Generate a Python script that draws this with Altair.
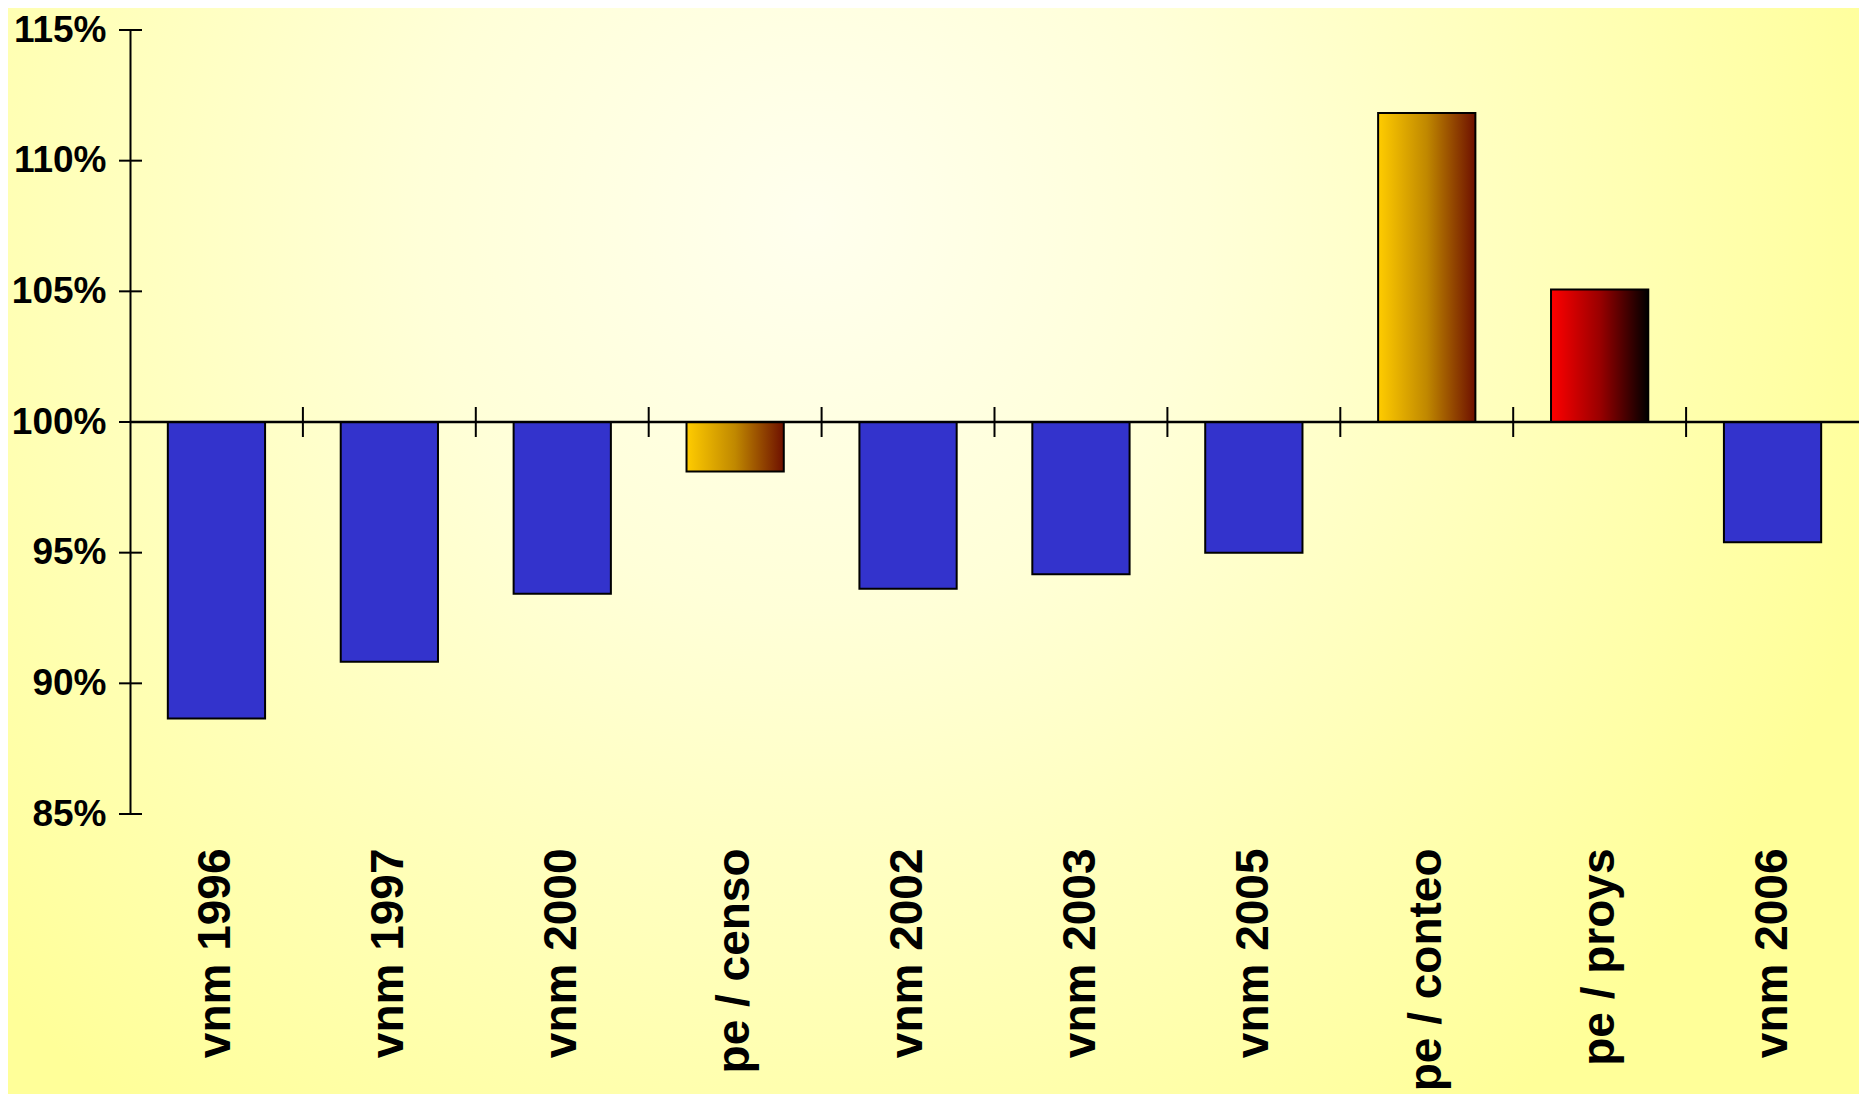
import altair as alt
import pandas as pd

categories = ["vnm 1996", "vnm 1997", "vnm 2000", "pe / censo", "vnm 2002",
              "vnm 2003", "vnm 2005", "pe / conteo", "pe / proys", "vnm 2006"]
values = [88.65, 90.83, 93.43, 98.11, 93.62, 94.17, 95.00, 111.82, 105.07, 95.40]
groups = ["vnm", "vnm", "vnm", "pe_gold", "vnm", "vnm", "vnm", "pe_gold", "pe_red", "vnm"]
y_ticks = [85, 90, 95, 100, 105, 110, 115]
baseline = 100

W, H = 1729, 784
PAD_L, PAD_T, PAD_R, PAD_B = 122, 22, 0, 280

df = pd.DataFrame({"cat": categories, "value": values, "group": groups, "base": [baseline] * len(categories)})
ticks_df = pd.DataFrame({"v": y_ticks})
bound_df = pd.DataFrame({"cat": categories[1:]})

FONT = "Liberation Sans"

x_enc = alt.X("cat:N", sort=categories,
              scale=alt.Scale(domain=categories, paddingInner=0, paddingOuter=0),
              axis=alt.Axis(title=None, labelAngle=270, labelFontSize=46, labelFont=FONT,
                            labelFontWeight="bold", labelColor="black", ticks=False,
                            domain=False, labelPadding=34, zindex=1, labelLimit=400))
y_scale = alt.Scale(domain=[85, 115], nice=False, zero=False)
y_enc = alt.Y("value:Q", scale=y_scale,
              axis=alt.Axis(title=None, values=y_ticks, labelExpr="datum.value + '%'",
                            labelFontSize=37, labelFont=FONT, labelFontWeight="bold",
                            labelColor="black", ticks=False, domain=True, domainColor="black",
                            domainWidth=2, grid=False, labelPadding=24, zindex=1,
                            labelBaseline="middle"))

bg_grad = alt.RadialGradient(gradient="radial", x1=0.43, y1=0.32, r1=0, x2=0.43, y2=0.32, r2=0.6,
                             stops=[alt.GradientStop(offset=0, color="#FFFFEE"),
                                    alt.GradientStop(offset=0.35, color="#FFFFD8"),
                                    alt.GradientStop(offset=1, color="#FFFF99")])
background = alt.Chart(alt.Data(values=[{"a": 1}])).mark_rect(fill=bg_grad).encode(
    x=alt.value(-PAD_L), x2=alt.value(W + 20), y=alt.value(-PAD_T), y2=alt.value(H + PAD_B + 10)
)

gold = alt.LinearGradient(gradient="linear", x1=0, y1=0, x2=1, y2=0,
                          stops=[alt.GradientStop(offset=0, color="#FFCC00"),
                                 alt.GradientStop(offset=0.5, color="#C08800"),
                                 alt.GradientStop(offset=1, color="#6E1000")])
red = alt.LinearGradient(gradient="linear", x1=0, y1=0, x2=1, y2=0,
                         stops=[alt.GradientStop(offset=0, color="#FF0000"),
                                alt.GradientStop(offset=0.5, color="#9A0000"),
                                alt.GradientStop(offset=1, color="#000000")])

bw = alt.RelativeBandSize(0.5625)
base = alt.Chart(df)
bars_blue = base.transform_filter("datum.group == 'vnm'").mark_bar(
    fill="#3333CC", stroke="black", strokeWidth=2, width=bw).encode(x=x_enc, y=y_enc, y2="base:Q")
bars_gold = base.transform_filter("datum.group == 'pe_gold'").mark_bar(
    fill=gold, stroke="black", strokeWidth=2, width=bw).encode(x=x_enc, y=y_enc, y2="base:Q")
bars_red = base.transform_filter("datum.group == 'pe_red'").mark_bar(
    fill=red, stroke="black", strokeWidth=2, width=bw).encode(x=x_enc, y=y_enc, y2="base:Q")

zero_line = alt.Chart(alt.Data(values=[{"b": baseline}])).mark_rule(color="black", strokeWidth=2.5).encode(
    y=alt.Y("b:Q", scale=y_scale)
)
x_ticks = alt.Chart(bound_df).mark_rule(color="black", strokeWidth=2, yOffset=-15, y2Offset=15).encode(
    x=alt.X("cat:N", sort=categories, bandPosition=0,
            scale=alt.Scale(domain=categories, paddingInner=0, paddingOuter=0)),
    y=alt.datum(baseline, scale=y_scale), y2=alt.datum(baseline)
)
y_tick_marks = alt.Chart(ticks_df).mark_rule(color="black", strokeWidth=2).encode(
    y=alt.Y("v:Q", scale=y_scale), x=alt.value(-11), x2=alt.value(12)
)

chart = alt.layer(background, bars_blue, bars_gold, bars_red, zero_line, x_ticks, y_tick_marks).properties(
    width=W, height=H,
    autosize=alt.AutoSizeParams(type="none"),
    padding={"left": PAD_L, "top": PAD_T, "right": PAD_R, "bottom": PAD_B},
    background="#FFFF99",
).configure_view(stroke=None)

chart.save("out.html", embed_options={"renderer": "svg", "actions": False})
